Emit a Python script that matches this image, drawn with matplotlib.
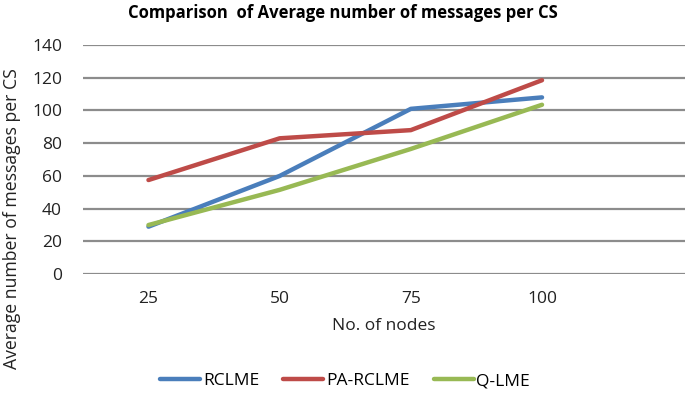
import matplotlib.pyplot as plt

plt.rcParams['font.family'] = ['Open Sans', 'DejaVu Sans']

nodes = ["25", "50", "75", "100"]
rclme = [29, 60, 101, 108]
pa_rclme = [57.5, 83, 88, 118.5]
q_lme = [30, 51.5, 76.5, 103.5]

fig = plt.figure(figsize=(6.85, 3.95), dpi=100)
ax = fig.add_axes([0.121, 0.306, 0.879, 0.58])

x = range(len(nodes))
ax.plot(x, rclme, color="#4A7EBB", lw=3.2, label="RCLME", solid_capstyle="round")
ax.plot(x, pa_rclme, color="#BE4B48", lw=3.2, label="PA-RCLME", solid_capstyle="round")
ax.plot(x, q_lme, color="#98B954", lw=3.2, label="Q-LME", solid_capstyle="round")

ax.set_xlim(-0.5, 4.09)
ax.set_ylim(0, 140)
ax.set_yticks(range(0, 141, 20))
ax.set_xticks(list(x))
ax.set_xticklabels(nodes)
ax.yaxis.grid(True, color="#8C8C8C", lw=1.6)
ax.set_axisbelow(True)
for s in ax.spines.values():
    s.set_visible(False)
ax.tick_params(length=0, labelsize=12.5, colors="#222222")
ax.tick_params(axis="y", pad=15)
ax.tick_params(axis="x", pad=12)

ax.set_xlabel("No. of nodes", fontsize=12.5, labelpad=8, color="#222222")
fig.text(0.018, 1 - 219 / 395, "Average number of messages per CS", rotation=90,
         ha="center", va="center", fontsize=12.7, color="#222222")
fig.text(0.5, 0.968, "Comparison  of Average number of messages per CS",
         ha="center", va="center", fontsize=12, fontweight="bold")

fig.legend(loc="center", bbox_to_anchor=(0.504, 0.035), ncol=3, frameon=False,
           fontsize=12.5, handlelength=2.3, handletextpad=0.15, columnspacing=1.4)

fig.savefig("out.png", dpi=100)
